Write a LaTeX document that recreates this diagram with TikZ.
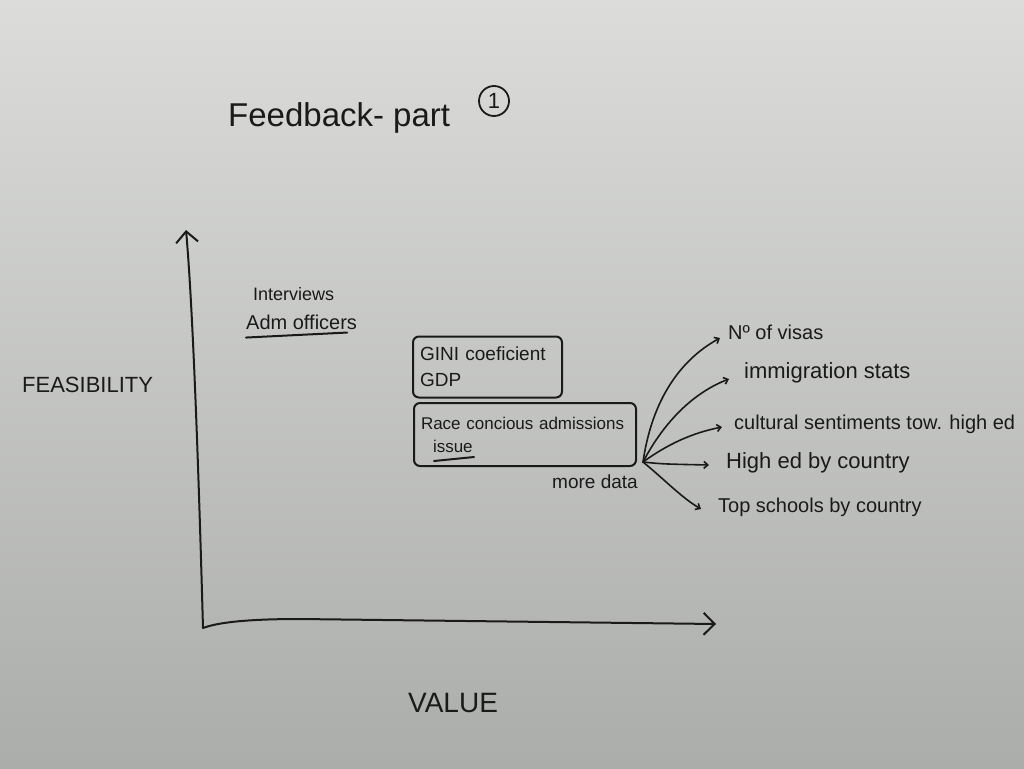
\documentclass[tikz,border=0pt]{standalone}
\usepackage{fontspec}
\setmainfont{Liberation Sans}
\usetikzlibrary{arrows.meta}
\definecolor{ink}{HTML}{1A1A1A}
\definecolor{bgtop}{HTML}{DCDDDB}
\definecolor{bgmid}{HTML}{D2D3D1}
\definecolor{bgbot}{HTML}{ABADAB}
\newcommand{\fs}[1]{\fontsize{#1}{#1}\selectfont}
\begin{document}
\begin{tikzpicture}[x=1pt,y=-1pt,
  inkline/.style={draw=ink, line width=2pt, line cap=round, line join=round},
  lbl/.style={text=ink, inner sep=0pt, anchor=west},
  fanarrow/.style={inkline, line width=1.6pt, -{Straight Barb[length=4pt,width=7pt]}},
  axisarrow/.style={inkline, {Straight Barb[length=11pt,width=22pt]}-{Straight Barb[length=11pt,width=22pt]}},
  box/.style={draw=ink, line width=2pt, rounded corners=6pt, align=left, inner sep=0pt, text=ink}]
\useasboundingbox (0,0) rectangle (1024,768);
\shade[top color=bgtop, middle color=bgmid, bottom color=bgbot] (0,0) rectangle (1024,768);

% title
\node[lbl, font=\fs{33}] (title) at (228,118) {Feedback- part};
\node[draw=ink, circle, line width=1.8pt, minimum size=30pt, inner sep=0pt, text=ink, font=\fs{22}] (one) at (494,101) {1};

% axes
\coordinate (ytop) at (186,230);
\coordinate (origin) at (203,628);
\coordinate (xend) at (716,624);
\draw[axisarrow] (ytop) .. controls (194,320) and (200,520) .. (origin)
  .. controls (214,624) and (236,619) .. (300,619) -- (xend);
\node[lbl, font=\fs{22}] (feas) at (22,385) {FEASIBILITY};
\node[lbl, font=\fs{28}] (value) at (408,703) {VALUE};

% interviews
\node[lbl, font=\fs{18}] (interv) at (253,294) {Interviews};
\node[lbl, font=\fs{20}] (adm) at (246,322) {Adm officers};
\draw[inkline] ([yshift=-8pt]adm.south west) -- ([xshift=-10pt,yshift=-3pt]adm.south east);

% boxes
\node[box, minimum width=149pt, minimum height=61pt, text width=135pt,
      font=\fontsize{19}{26}\selectfont] (gini) at (487.5,367) {GINI coeficient\\GDP};
\node[box, minimum width=222pt, minimum height=63pt, text width=208pt,
      font=\fontsize{17}{23}\selectfont] (race) at (525,434.5) {Race concious admissions\\\hspace*{12pt}issue};
\draw[inkline] ([xshift=21pt,yshift=6pt]race.south west) -- ([xshift=61pt,yshift=10pt]race.south west);

% more data fan
\node[lbl, font=\fs{19}] (more) at (552,482) {more data};
\coordinate (fan) at (643,462);
\node[lbl, font=\fs{20}] (visas) at (728,332) {Nº of visas};
\node[lbl, font=\fs{22}] (immig) at (744,373) {immigration stats};
\node[lbl, font=\fs{20}] (cult) at (734,424) {cultural sentiments tow. high ed};
\node[lbl, font=\fs{22}] (high) at (726,463) {High ed by country};
\node[lbl, font=\fs{20}] (top) at (718,507) {Top schools by country};

\draw[fanarrow] (fan) .. controls (652,400) and (680,360) .. ([xshift=-8pt,yshift=-6pt]visas.west);
\draw[fanarrow] (fan) .. controls (665,420) and (695,392) .. ([xshift=-15pt,yshift=-6pt]immig.west);
\draw[fanarrow] (fan) .. controls (668,444) and (692,433) .. ([xshift=-12pt,yshift=-3pt]cult.west);
\draw[fanarrow] (fan) .. controls (662,464) .. ([xshift=-17pt,yshift=-2pt]high.west);
\draw[fanarrow] (fan) .. controls (665,480) and (682,498) .. ([xshift=-17pt,yshift=-2pt]top.west);
\end{tikzpicture}
\end{document}
